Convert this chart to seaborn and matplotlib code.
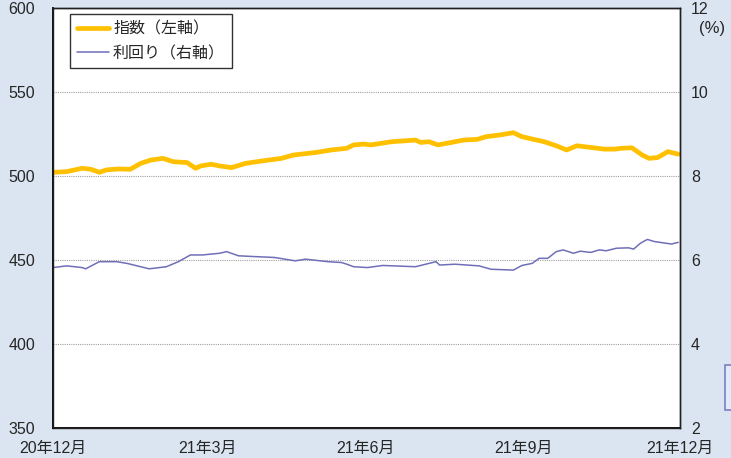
import pandas as pd
import seaborn as sns
import matplotlib.pyplot as plt
import matplotlib.patches as mpatches

# index (left axis)
idx_dates = ["2020-12-01", "2020-12-09", "2020-12-18", "2020-12-23", "2020-12-28", "2021-01-01",
             "2021-01-08", "2021-01-15", "2021-01-21", "2021-01-27", "2021-02-03", "2021-02-09",
             "2021-02-17", "2021-02-22", "2021-02-25", "2021-03-03", "2021-03-08", "2021-03-15",
             "2021-03-23", "2021-04-02", "2021-04-13", "2021-04-20", "2021-05-03", "2021-05-12",
             "2021-05-21", "2021-05-25", "2021-05-31", "2021-06-04", "2021-06-16", "2021-06-30",
             "2021-07-03", "2021-07-08", "2021-07-13", "2021-07-21", "2021-07-28", "2021-08-05",
             "2021-08-10", "2021-08-18", "2021-08-26", "2021-08-31", "2021-09-06", "2021-09-13",
             "2021-09-20", "2021-09-26", "2021-10-02", "2021-10-10", "2021-10-18", "2021-10-24",
             "2021-10-28", "2021-11-03", "2021-11-09", "2021-11-13", "2021-11-18", "2021-11-24",
             "2021-11-30"]
idx_values = [502.2, 502.6, 504.6, 504, 502.2, 503.6,
              504.2, 504, 507.5, 509.5, 510.5, 508.5,
              508, 504.6, 506, 507, 506, 505,
              507.5, 509, 510.5, 512.5, 514, 515.5,
              516.5, 518.5, 519, 518.5, 520.4, 521.4,
              520, 520.4, 518.5, 520, 521.4, 521.8,
              523.4, 524.4, 525.8, 523.4, 522, 520.4,
              518, 515.5, 518, 517, 516, 516,
              516.5, 516.8, 512.5, 510.5, 511, 514.5,
              513]

# yield (right axis, %)
yld_dates = ["2020-12-01", "2020-12-09", "2020-12-18", "2020-12-20", "2020-12-28", "2021-01-07",
             "2021-01-13", "2021-01-26", "2021-02-05", "2021-02-12", "2021-02-19", "2021-02-26",
             "2021-03-08", "2021-03-12", "2021-03-19", "2021-03-29", "2021-04-09", "2021-04-21",
             "2021-04-27", "2021-05-10", "2021-05-18", "2021-05-21", "2021-05-25", "2021-06-02",
             "2021-06-11", "2021-06-30", "2021-07-12", "2021-07-14", "2021-07-23", "2021-08-06",
             "2021-08-13", "2021-08-26", "2021-08-31", "2021-09-06", "2021-09-10", "2021-09-15",
             "2021-09-20", "2021-09-24", "2021-09-30", "2021-10-04", "2021-10-10", "2021-10-15",
             "2021-10-19", "2021-10-25", "2021-11-01", "2021-11-04", "2021-11-08", "2021-11-12",
             "2021-11-16", "2021-11-26", "2021-11-30"]
yld_values = [5.82, 5.86, 5.82, 5.79, 5.96, 5.96, 5.92, 5.79, 5.84, 5.96, 6.12, 6.12,
              6.16, 6.20, 6.10, 6.08, 6.06, 5.98, 6.02, 5.96, 5.94, 5.90, 5.84, 5.82,
              5.87, 5.84, 5.96, 5.88, 5.90, 5.86, 5.78, 5.76, 5.87, 5.92, 6.04, 6.04,
              6.20, 6.24, 6.16, 6.21, 6.18, 6.24, 6.22, 6.28, 6.29, 6.26, 6.40, 6.49,
              6.44, 6.38, 6.42]

tick_dates = ["2020-12-01", "2021-03-01", "2021-06-01", "2021-09-01", "2021-12-01"]
tick_labels = ["20年12月", "21年3月", "21年6月", "21年9月", "21年12月"]
left_ticks = [350, 400, 450, 500, 550, 600]
right_ticks = [2, 4, 6, 8, 10, 12]

df_idx = pd.DataFrame({"date": pd.to_datetime(idx_dates), "value": idx_values})
df_yld = pd.DataFrame({"date": pd.to_datetime(yld_dates), "value": yld_values})

sns.set_style("white")
plt.rcParams['font.family'] = ['Liberation Sans', 'Noto Sans CJK JP', 'DejaVu Sans']

bg = "#dbe5f1"
fig = plt.figure(figsize=(7.31, 4.58), dpi=100, facecolor=bg)
ax = fig.add_axes([53 / 731, 30 / 458, 627 / 731, 420 / 458])
ax.set_facecolor("white")
ax2 = ax.twinx()

sns.lineplot(data=df_idx, x="date", y="value", ax=ax, color="#ffc000", linewidth=3.4,
             label="指数（左軸）", legend=False)
sns.lineplot(data=df_yld, x="date", y="value", ax=ax2, color="#6f6fb8", linewidth=1.1,
             label="利回り（右軸）", legend=False)

ax.set_xlim(pd.Timestamp("2020-12-01"), pd.Timestamp("2021-12-01"))
ax.set_ylim(350, 600)
ax2.set_ylim(2, 12)
ax.set_yticks(left_ticks)
ax2.set_yticks(right_ticks)
ax.set_xticks(pd.to_datetime(tick_dates))
ax.set_xticklabels(tick_labels)
ax.set_xlabel("")
ax.set_ylabel("")
ax2.set_ylabel("")

ax.grid(axis="y", color="#a0a0a0", linestyle=(0, (1, 1)), linewidth=0.8)
ax.tick_params(axis="x", direction="in", length=4, width=0.8, color="black",
               labelsize=11.5, pad=9)
ax.tick_params(axis="y", length=0, labelsize=11.5, pad=13)
ax2.tick_params(axis="y", length=0, labelsize=11.5, pad=8)

for a in (ax, ax2):
    for s in a.spines.values():
        s.set_visible(True)
        s.set_color("#202020")
        s.set_linewidth(1.0)
ax.spines["left"].set_color("black")
ax.spines["bottom"].set_color("black")
ax.spines["left"].set_linewidth(1.3)
ax.spines["bottom"].set_linewidth(1.3)

# unit label under the right axis top tick
fig.text(699 / 731, 1 - 29 / 458, "(%)", fontsize=12, ha="left", va="center")

h1, l1 = ax.get_legend_handles_labels()
h2, l2 = ax2.get_legend_handles_labels()
leg = ax2.legend(h1 + h2, l1 + l2, loc="upper left", bbox_to_anchor=(0.027, 0.986),
                 borderaxespad=0, fontsize=11.5, frameon=True, fancybox=False,
                 handlelength=2.0, handletextpad=0.25, labelspacing=0.6, borderpad=0.45)
leg.get_frame().set_edgecolor("black")
leg.get_frame().set_linewidth(1.0)

# clipped box at the right edge
fig.patches.append(mpatches.Rectangle((725 / 731, 48 / 458), 0.05, 45 / 458,
                                      transform=fig.transFigure, facecolor="#dfeafa",
                                      edgecolor="#7b80c0", linewidth=1.2))

fig.savefig("out.png", dpi=100, facecolor=bg)
